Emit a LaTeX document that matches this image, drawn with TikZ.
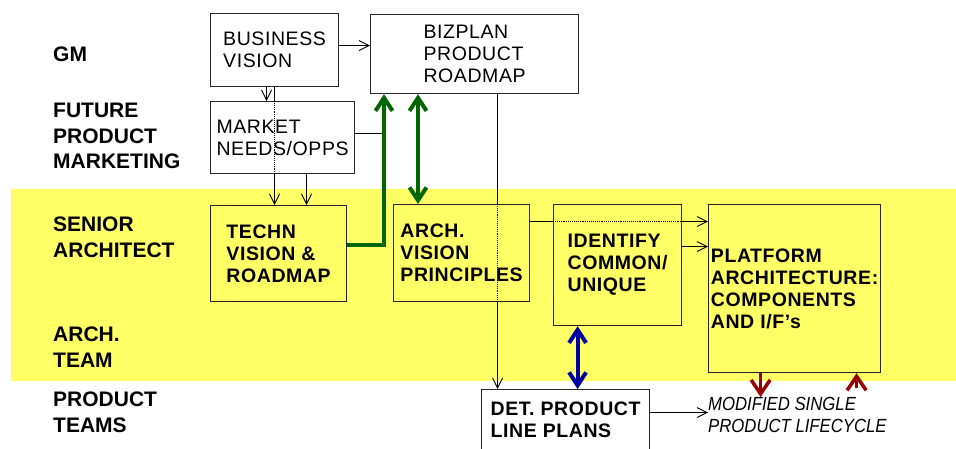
\documentclass[tikz,border=0pt]{standalone}
\usepackage{fontspec}
\setmainfont{Liberation Sans}
\newfontfamily\boxfont[LetterSpace=3]{Liberation Sans}
\newfontfamily\cyclefont[FakeStretch=0.88]{Liberation Sans}
\usetikzlibrary{arrows.meta}

\definecolor{bandyellow}{RGB}{255,255,102}
\definecolor{archgreen}{RGB}{0,102,0}
\definecolor{teamblue}{RGB}{0,0,160}
\definecolor{cyclered}{RGB}{153,0,0}

\tikzset{
  box/.style = {draw=black!85, line width=1.2pt, fill=white, anchor=north west, align=left,
                inner sep=0pt, font=\boxfont\fontsize{19.5}{22}\selectfont},
  bandbox/.style = {box, fill=bandyellow, font=\boxfont\fontsize{19.5}{22}\selectfont\bfseries},
  role/.style = {anchor=north west, align=left, inner sep=0pt, font=\fontsize{21}{25.5}\selectfont\bfseries},
  link/.style = {line width=0.9pt},
  conn/.style = {link, -{Straight Barb[length=10pt,width=10pt]}},
  fat/.style = {line width=4pt, >={Straight Barb[length=13pt,width=17pt]}},
  redfat/.style = {line width=3.5pt, cyclered, >={Straight Barb[length=14pt,width=19pt]}}
}

\begin{document}
\begin{tikzpicture}[x=1pt, y=-1pt]
  \useasboundingbox (0,0) rectangle (956,448);
  \fill[bandyellow] (11,189) rectangle (956,381);

  % rows
  \node[role] (gm) at (53,47) {GM};
  \node[role] (fpm) at (53,103) {FUTURE\\PRODUCT\\MARKETING};
  \node[role] (senior) at (53,217) {SENIOR\\ARCHITECT};
  \node[role] (archteam) at (53,327) {ARCH.\\TEAM};
  \node[role] (prodteams) at (53,392) {PRODUCT\\TEAMS};

  % boxes
  \node[box, minimum width=128, minimum height=73] (bizvis) at (210,13) {BUSINESS\\VISION};
  \node[box, minimum width=208, minimum height=79] (bizplan) at (370,14) {BIZPLAN\\PRODUCT\\ROADMAP};
  \node[box, minimum width=144, minimum height=72] (market) at (210,101) {MARKET\\NEEDS/OPPS};
  \node[bandbox, minimum width=136, minimum height=96] (techn) at (210,205) {TECHN\\VISION \&\\ROADMAP};
  \node[bandbox, minimum width=136, minimum height=97] (archvis) at (393,204) {ARCH.\\VISION\\PRINCIPLES};
  \node[bandbox, minimum width=128, minimum height=121] (ident) at (553,204) {IDENTIFY\\COMMON/\\UNIQUE};
  \node[bandbox, minimum width=172, minimum height=168] (platform) at (708,204) {PLATFORM\\ARCHITECTURE:\\COMPONENTS\\AND I/F’s};
  \node[bandbox, fill=white, minimum width=168, minimum height=60] (lineplans) at (481,389) {DET. PRODUCT\\LINE PLANS};
  \node[anchor=north west, align=left, inner sep=0pt, font=\cyclefont\itshape\fontsize{19}{22}\selectfont]
    (lifecycle) at (708,397) {MODIFIED SINGLE\\PRODUCT LIFECYCLE};

  \coordinate (riser) at ([xshift=14pt]bizplan.south west);
  \coordinate (drop) at ([xshift=23pt]bizplan.south);
  \coordinate (feed) at ([yshift=31.5pt]archvis.east);

  % thin connectors
  \draw[conn] ([yshift=4.5pt]bizvis.east) -- ([yshift=4.5pt]bizvis.east -| bizplan.west);
  \draw[conn] ([xshift=-8pt]bizvis.south) -- ([xshift=-8pt]bizvis.south |- market.north);
  \draw[link] (bizvis.south) -- (bizvis.south |- market.north);
  \draw[link, densely dotted] (bizvis.south |- market.north) -- (bizvis.south |- market.south);
  \draw[conn] (bizvis.south |- market.south) -- (bizvis.south |- techn.north);
  \draw[conn] ([xshift=24pt]market.south) -- ([xshift=24pt]market.south |- techn.north);
  \draw[link] ([yshift=4pt]market.east) -- ([yshift=4pt]market.east -| riser);
  \draw[link] (drop) -- (drop |- archvis.north);
  \draw[link, densely dotted] (drop |- archvis.north) -- (drop |- archvis.south);
  \draw[conn] (drop |- archvis.south) -- (drop |- lineplans.north);
  \draw[link] (feed) -- (feed -| ident.west);
  \draw[link, densely dotted] (feed -| ident.west) -- (feed -| ident.east);
  \draw[conn] (feed -| ident.east) -- (feed -| platform.west);
  \draw[conn] ([yshift=18.5pt]ident.east) -- ([yshift=18.5pt]ident.east -| platform.west);
  \draw[conn] ([yshift=7pt]lineplans.east) -- ([yshift=7pt]lineplans.east -| lifecycle.west);

  % heavy arrows
  \draw[fat, ->, archgreen] ([yshift=9pt]techn.east) -| (riser);
  \draw[fat, <->, archgreen] ([xshift=48pt]bizplan.south west) -- ([xshift=48pt]bizplan.south west |- archvis.north);
  \draw[fat, <->, teamblue] ([xshift=-40pt]ident.south) -- ([xshift=-40pt]ident.south |- lineplans.north);
  \draw[redfat, ->] ([xshift=-34pt]platform.south) -- ([xshift=-34pt]platform.south |- lifecycle.north);
  \draw[redfat, ->] ([xshift=62pt,yshift=9pt]platform.south |- lifecycle.north) -- ([xshift=62pt]platform.south);
\end{tikzpicture}
\end{document}
